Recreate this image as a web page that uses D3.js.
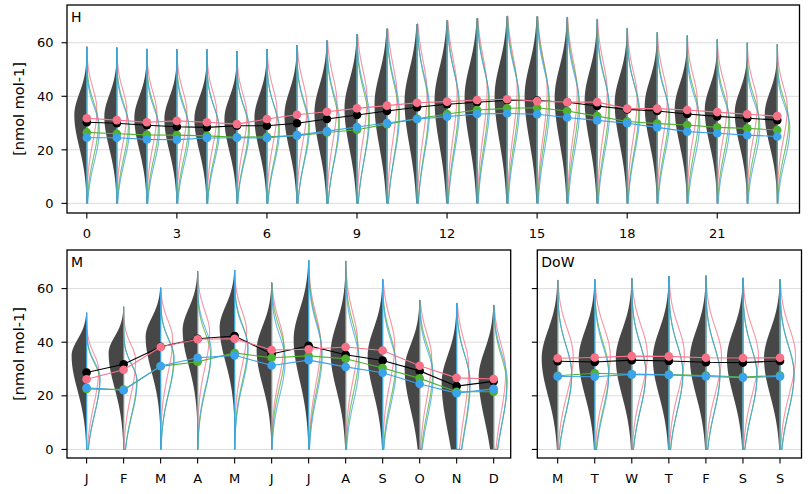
<!DOCTYPE html>
<html>
<head>
<meta charset="utf-8">
<script src="https://cdn.jsdelivr.net/npm/d3@7"></script>
<style>
body { margin: 0; background: #fff; }
svg { display: block; }
text { font-family: "DejaVu Sans", sans-serif; fill: #000; }
</style>
</head>
<body>
<div id="chart"></div>
<script>
// categories
var hours = d3.range(24);
var months = ["J", "F", "M", "A", "M", "J", "J", "A", "S", "O", "N", "D"];
var days = ["M", "T", "W", "T", "F", "S", "S"];
var yTicks = [0, 20, 40, 60];

// mean values per hour (all, red, green, blue groups)
var hBlack = [30.3, 29.9, 29.2, 28.6, 28.4, 29.0, 29.0, 29.9, 31.5, 33.0, 34.5, 35.9, 37.0, 37.8, 38.5, 38.4, 37.8, 36.4, 35.1, 34.5, 33.4, 32.5, 31.8, 31.1];
var hRed   = [31.8, 31.1, 30.3, 30.8, 30.3, 29.6, 31.5, 33.1, 34.2, 35.5, 36.5, 37.6, 38.0, 38.6, 38.9, 38.2, 37.8, 37.8, 35.4, 35.4, 34.9, 34.1, 33.3, 32.6];
var hGreen = [26.5, 26.0, 25.6, 25.5, 25.2, 24.7, 24.9, 25.3, 26.5, 27.5, 29.6, 31.6, 33.4, 34.9, 35.5, 35.7, 34.5, 32.6, 30.6, 29.8, 29.3, 28.4, 28.0, 27.4];
var hBlue  = [24.5, 24.5, 23.9, 23.8, 24.4, 24.5, 24.4, 25.5, 27.0, 28.5, 30.0, 31.5, 32.4, 33.4, 33.6, 33.3, 32.1, 31.0, 29.9, 28.4, 26.8, 26.2, 25.5, 25.0];
// hour violins: max, mode, spread below / above mode
var hMax  = [58.5, 58.2, 57.7, 57.6, 57.6, 56.9, 57.6, 59.1, 60.8, 63.2, 65.2, 67.0, 68.3, 69.1, 69.9, 69.8, 69.5, 68.8, 65.4, 63.9, 62.7, 61.2, 60.0, 59.4];
var hMode = [33, 32.5, 32, 31.5, 31.5, 31.5, 32, 33, 34, 35.5, 37, 38, 38.6, 39.5, 40, 40, 39.5, 38.5, 37.5, 36.5, 35.5, 35, 34, 33.5];
var hSdLo = [12, 12, 12, 12, 12, 12, 12.5, 13, 14, 15, 16, 16.5, 17, 17, 17, 17, 16.5, 16, 15, 14, 13.5, 13, 12.5, 12];
var hSdHi = [8, 8, 8, 8, 8, 8, 8.5, 9, 10, 10.5, 11.5, 12, 12, 12, 12, 12, 11.5, 11, 10, 9.5, 9, 8.5, 8, 8];

// monthly
var mBlack = [28.7, 31.8, 38.3, 41.3, 42.3, 35.6, 38.7, 35.3, 33.2, 29.3, 23.6, 25.4];
var mRed   = [26.2, 29.7, 38.2, 41.1, 41.3, 37.1, 37.4, 38.2, 36.9, 31.2, 26.7, 26.3];
var mGreen = [22.6, 22.3, 31.0, 32.7, 36.0, 34.2, 34.9, 33.8, 30.4, 26.5, 21.5, 21.5];
var mBlue  = [23.0, 22.1, 31.1, 34.2, 35.1, 31.3, 33.3, 30.8, 28.6, 24.4, 21.0, 22.6];
var mMax  = [51.0, 53.2, 60.3, 66.5, 66.9, 62.2, 70.6, 70.3, 63.4, 55.7, 54.5, 53.8];
var mMode = [35, 36, 42, 44.5, 45.5, 37, 41, 36, 35, 30, 25, 27];
var mSdLo = [13, 13, 13, 13, 13, 13, 15, 14, 14, 15, 18, 16];
var mSdHi = [6, 6, 7, 8, 8, 9, 11, 11, 10, 9, 10, 10];

// day of week
var dBlack = [32.9, 32.6, 33.3, 33.0, 32.5, 32.4, 33.0];
var dRed   = [34.0, 34.3, 34.8, 34.7, 34.2, 34.1, 34.2];
var dGreen = [27.5, 28.4, 28.0, 27.9, 27.6, 27.0, 27.6];
var dBlue  = [27.2, 27.1, 28.0, 27.8, 27.2, 26.8, 27.2];
var dMax  = [63.2, 63.4, 63.8, 64.7, 64.8, 64.0, 63.4];
var dMode = [34, 34, 34, 34, 34, 34, 34];
var dSdLo = [14, 14, 14, 14, 14, 14, 14];
var dSdHi = [10.5, 10.5, 10.5, 10.5, 10.5, 10.5, 10.5];

var groupColors = ["#f77189", "#50b131", "#3ba3ec"];

var width = 808, height = 494;
var svg = d3.select("#chart").append("svg")
	.attr("width", width)
	.attr("height", height);

var panels = [
	{ name: "H", cats: hours, tickLabel: function(d, i) { return i % 3 === 0 ? String(d) : null; },
	  left: 67, right: 799.5, top: 5, bottom: 213, xDom: [-0.66, 23.74], yDom: [-3.6, 74.1],
	  black: hBlack, groups: [hRed, hGreen, hBlue], max: hMax, mode: hMode, sdLo: hSdLo, sdHi: hSdHi,
	  darkW: 12.5, colW: [10, 11.5, 12.5], skew: 0.8, ylab: true },
	{ name: "M", cats: months, tickLabel: function(d) { return d; },
	  left: 67, right: 510.7, top: 250, bottom: 458, xDom: [-0.53, 11.46], yDom: [-3.2, 74.4],
	  black: mBlack, groups: [mRed, mGreen, mBlue], max: mMax, mode: mMode, sdLo: mSdLo, sdHi: mSdHi,
	  darkW: 15, colW: [12, 13, 13.5], skew: 0.5, ylab: true },
	{ name: "DoW", cats: days, tickLabel: function(d) { return d; },
	  left: 537.3, right: 801.5, top: 250, bottom: 458, xDom: [-0.55, 6.58], yDom: [-3.2, 74.4],
	  black: dBlack, groups: [dRed, dGreen, dBlue], max: dMax, mode: dMode, sdLo: dSdLo, sdHi: dSdHi,
	  darkW: 16, colW: [15.5, 14, 14], skew: 0.2, ylab: false }
];

function dens(v, mode, lo, hi) {
	var s = v < mode ? lo : hi;
	var z = (v - mode) / s;
	return Math.exp(-0.5 * z * z);
}

panels.forEach(function(p, pi) {
	var x = d3.scaleLinear().domain(p.xDom).range([p.left, p.right]);
	var y = d3.scaleLinear().domain(p.yDom).range([p.bottom, p.top]);

	var clipId = "clip" + pi;
	svg.append("clipPath").attr("id", clipId)
		.append("rect")
		.attr("x", p.left).attr("y", p.top)
		.attr("width", p.right - p.left).attr("height", p.bottom - p.top);

	var g = svg.append("g").attr("clip-path", "url(#" + clipId + ")");

	// grid
	g.selectAll(".grid")
		.data(yTicks)
		.join("line")
		.attr("x1", p.left).attr("x2", p.right)
		.attr("y1", d => y(d)).attr("y2", d => y(d))
		.attr("stroke", "#dcdcdc")
		.attr("stroke-width", 1);

	// dark half violins (left)
	p.cats.forEach(function(c, i) {
		var cx = x(i);
		var vs = d3.range(0, p.max[i], 0.25).concat([p.max[i]]);
		var area = d3.area()
			.y(v => y(v))
			.x0(v => cx - p.darkW * dens(v, p.mode[i], p.sdLo[i], p.sdHi[i]))
			.x1(cx);
		g.append("path")
			.attr("d", area(vs))
			.attr("fill", "#474747");
	});

	// coloured half violins (right), outline only
	p.groups.forEach(function(means, k) {
		p.cats.forEach(function(c, i) {
			var cx = x(i);
			var lo = p.sdLo[i], hi = p.sdHi[i];
			var md = means[i] + p.skew * (lo - hi);
			var vs = d3.range(p.max[i], 0, -0.25).concat([0]);
			var pts = [[cx, y(p.max[i])]]
				.concat(vs.map(v => [cx + p.colW[k] * dens(v, md, lo, hi), y(v)]))
				.concat([[cx, y(0)]]);
			g.append("path")
				.attr("d", d3.line()(pts) + "Z")
				.attr("fill", "none")
				.attr("stroke", groupColors[k])
				.attr("stroke-width", 1);
		});
	});

	// means: black, green, blue, red
	var series = [
		{ v: p.black, col: "#000000" },
		{ v: p.groups[1], col: groupColors[1] },
		{ v: p.groups[2], col: groupColors[2] },
		{ v: p.groups[0], col: groupColors[0] }
	];
	var line = d3.line().x((d, i) => x(i)).y(d => y(d));
	series.forEach(function(s) {
		svg.append("path")
			.attr("d", line(s.v))
			.attr("fill", "none")
			.attr("stroke", s.col)
			.attr("stroke-width", 1.1);
		svg.append("g").selectAll("circle")
			.data(s.v)
			.join("circle")
			.attr("cx", (d, i) => x(i))
			.attr("cy", d => y(d))
			.attr("r", 4.3)
			.attr("fill", s.col);
	});

	// frame
	svg.append("rect")
		.attr("x", p.left).attr("y", p.top)
		.attr("width", p.right - p.left).attr("height", p.bottom - p.top)
		.attr("fill", "none")
		.attr("stroke", "#000")
		.attr("stroke-width", 1.3);

	// x ticks
	var xt = svg.append("g");
	p.cats.forEach(function(c, i) {
		var lab = p.tickLabel(c, i);
		if (lab === null) return;
		xt.append("line")
			.attr("x1", x(i)).attr("x2", x(i))
			.attr("y1", p.bottom).attr("y2", p.bottom + 5.5)
			.attr("stroke", "#000").attr("stroke-width", 1.1);
		xt.append("text")
			.attr("x", x(i)).attr("y", p.bottom + 24.5)
			.attr("text-anchor", "middle")
			.style("font-size", "13px")
			.text(lab);
	});

	// y ticks
	yTicks.forEach(function(t) {
		svg.append("line")
			.attr("x1", p.left - 5.5).attr("x2", p.left)
			.attr("y1", y(t)).attr("y2", y(t))
			.attr("stroke", "#000").attr("stroke-width", 1.1);
		if (p.ylab) {
			svg.append("text")
				.attr("x", p.left - 13.5).attr("y", y(t))
				.attr("dy", "0.36em")
				.attr("text-anchor", "end")
				.style("font-size", "13px")
				.text(t);
		}
	});

	if (p.ylab) {
		svg.append("text")
			.attr("transform", "translate(24," + ((p.top + p.bottom) / 2) + ") rotate(-90)")
			.attr("text-anchor", "middle")
			.style("font-size", "14.5px")
			.text("[nmol mol-1]");
	}

	svg.append("text")
		.attr("x", p.left + 4).attr("y", p.top + 16.5)
		.style("font-size", "14px")
		.text(p.name);
});
</script>
</body>
</html>
